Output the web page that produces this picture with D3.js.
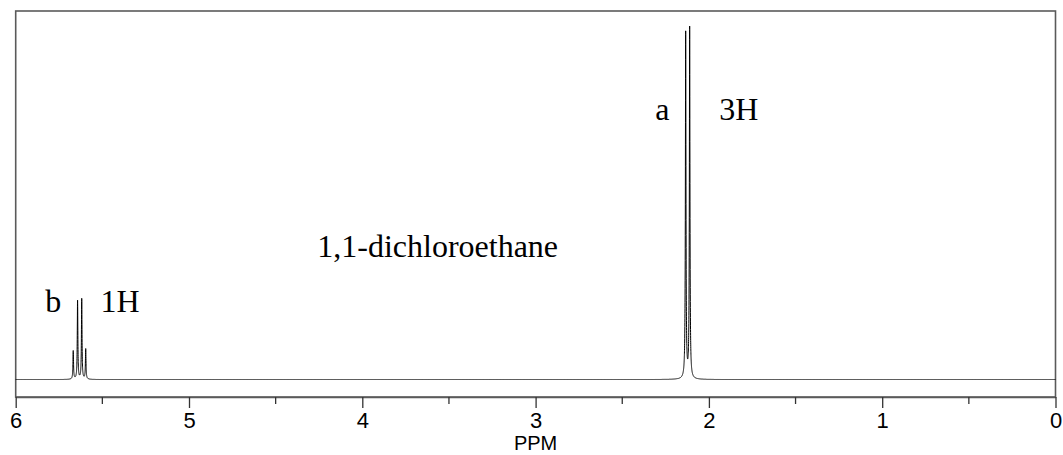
<!DOCTYPE html>
<html>
<head>
<meta charset="utf-8">
<script src="https://cdn.jsdelivr.net/npm/d3@7"></script>
<style>
  html, body { margin: 0; padding: 0; background: #fff; }
  svg { display: block; }
</style>
</head>
<body>
<svg id="chart" width="1063" height="455"></svg>
<script>
// ---- data ----
const peakPPM    = [5.668, 5.643, 5.619, 5.596, 2.134, 2.111];   // line positions (ppm)
const peakHeight = [7.7, 21.3, 21.8, 8.2, 93.9, 95.2];           // relative intensity (%)
const lineWidth  = 0.002;                                        // Lorentzian half-width (ppm)
const xTicks     = [6, 5, 4, 3, 2, 1, 0];
const xMinorTicks = [5.5, 4.5, 3.5, 2.5, 1.5, 0.5];
const labels = [
  { text: "a",  ppm: 2.31, y: 70.4 },
  { text: "3H", ppm: 1.94, y: 70.4 },
  { text: "b",  ppm: 5.83, y: 18.3 },
  { text: "1H", ppm: 5.51, y: 18.3 },
  { text: "1,1-dichloroethane", ppm: 4.26, y: 33.2 }
];

// ---- layout ----
const svg = d3.select("#chart");
const plotLeft = 15.7, plotRight = 1055.5, plotTop = 11, plotBase = 379.5, axisY = 397;

const x = d3.scaleLinear().domain([6, 0]).range([plotLeft, plotRight]);
const y = d3.scaleLinear().domain([0, 100]).range([plotBase, plotBase - 368.5]);

// spectrum: sum of Lorentzian lines at the listed peaks
const step = 0.0002;
const pts = d3.range(6, -step / 2, -step).map(p => {
  let s = 0;
  for (let i = 0; i < peakPPM.length; i++) {
    const d = p - peakPPM[i];
    s += peakHeight[i] * lineWidth * lineWidth / (d * d + lineWidth * lineWidth);
  }
  return [p, s];
});

// frame
svg.append("rect")
  .attr("x", plotLeft).attr("y", plotTop)
  .attr("width", plotRight - plotLeft).attr("height", axisY - plotTop)
  .attr("fill", "none").attr("stroke", "#5a5a5a").attr("stroke-width", 1.6);

svg.append("path")
  .datum(pts)
  .attr("fill", "none")
  .attr("stroke", "#000")
  .attr("stroke-width", 1)
  .attr("d", d3.line().x(d => x(d[0])).y(d => y(d[1])));

// axis
const axis = d3.axisBottom(x).tickValues(xTicks).tickFormat(d3.format("d")).tickSize(11).tickSizeOuter(0);
const gAxis = svg.append("g").attr("transform", `translate(0,${axisY})`).call(axis);
gAxis.select(".domain").attr("stroke", "#5a5a5a").attr("stroke-width", 1.6);
gAxis.selectAll(".tick line").attr("stroke", "#333").attr("stroke-width", 1.3);
gAxis.selectAll(".tick text")
  .attr("font-family", "'Liberation Sans', Arial, sans-serif")
  .attr("font-size", 22).attr("fill", "#000").attr("dy", 0).attr("y", 31);

svg.append("g").selectAll("line").data(xMinorTicks).join("line")
  .attr("x1", d => x(d)).attr("x2", d => x(d))
  .attr("y1", axisY).attr("y2", axisY + 7)
  .attr("stroke", "#333").attr("stroke-width", 1.3);

svg.append("text")
  .attr("x", x(3)).attr("y", 450)
  .attr("text-anchor", "middle")
  .attr("font-family", "'Liberation Sans', Arial, sans-serif")
  .attr("font-size", 20).attr("fill", "#000")
  .text("PPM");

// annotations
svg.append("g").selectAll("text").data(labels).join("text")
  .attr("x", d => x(d.ppm)).attr("y", d => y(d.y))
  .attr("font-family", "'Liberation Serif', 'Times New Roman', serif")
  .attr("font-size", 32).attr("fill", "#000")
  .text(d => d.text);
</script>
</body>
</html>
